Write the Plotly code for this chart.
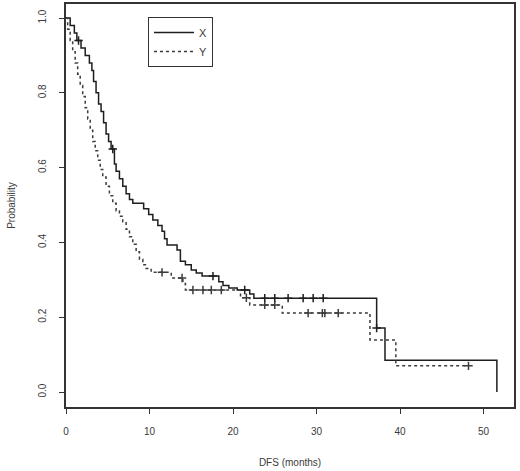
import numpy as np
import plotly.graph_objects as go

# ---- data ----
x_times = [0, 0.5, 1.0, 1.3, 1.8, 2.3, 2.8, 3.1, 3.3, 3.6, 3.9, 4.2, 4.5, 4.8, 5.1, 5.4,
           5.8, 6.0, 6.4, 6.8, 7.2, 7.6, 8.0, 9.3, 9.9, 10.4, 11.0, 11.5, 11.8, 12.1,
           13.3, 13.7, 14.3, 15.0, 15.6, 16.3, 18.3, 18.8, 19.5, 20.5, 22.0, 22.5,
           37.2, 38.2, 51.6]
x_surv = [1.0, 0.98, 0.96, 0.94, 0.92, 0.90, 0.88, 0.86, 0.83, 0.80, 0.77, 0.75, 0.72,
          0.69, 0.67, 0.65, 0.61, 0.59, 0.57, 0.55, 0.53, 0.515, 0.505, 0.49, 0.475,
          0.46, 0.445, 0.43, 0.41, 0.393, 0.38, 0.35, 0.34, 0.326, 0.318, 0.31, 0.295,
          0.285, 0.278, 0.273, 0.262, 0.251, 0.171, 0.085, 0.0]
x_censor = [1.5, 5.6, 17.6, 21.4, 23.8, 25.0, 26.6, 28.4, 29.6, 30.8, 37.2]

y_times = [0, 0.2, 0.5, 0.8, 1.1, 1.4, 1.7, 2.0, 2.3, 2.6, 2.9, 3.2, 3.5, 3.8, 4.1, 4.4,
           4.8, 5.2, 5.6, 6.0, 6.4, 6.8, 7.2, 7.6, 8.0, 8.4, 8.8, 9.2, 9.6, 10.2, 12.6,
           14.0, 14.3, 20.9, 22.0, 25.9, 36.4, 39.5, 48.2]
y_surv = [1.0, 0.97, 0.94, 0.91, 0.88, 0.85, 0.82, 0.79, 0.76, 0.73, 0.70, 0.67, 0.645,
          0.62, 0.595, 0.575, 0.55, 0.525, 0.505, 0.485, 0.47, 0.455, 0.435, 0.415,
          0.395, 0.375, 0.355, 0.34, 0.33, 0.32, 0.305, 0.29, 0.273, 0.252, 0.233,
          0.211, 0.139, 0.07, 0.07]
y_censor = [11.5, 13.9, 15.2, 16.4, 17.4, 18.6, 21.6, 23.8, 25.0, 29.0, 30.7, 31.0,
            32.6, 48.2]

x_ticks = [0, 10, 20, 30, 40, 50]
y_ticks = [0.0, 0.2, 0.4, 0.6, 0.8, 1.0]


def step_value(times, surv, t):
    idx = np.searchsorted(np.asarray(times), t, side="right") - 1
    return [surv[i] for i in idx]


AXC = "#333333"
TXT = "#3a3a3a"
FONT = "Liberation Sans, Arial, sans-serif"

fig = go.Figure()

fig.add_trace(go.Scatter(
    x=x_times, y=x_surv, mode="lines", line_shape="hv",
    line=dict(color="#1e1e1e", width=1.5), name="X", showlegend=True))
fig.add_trace(go.Scatter(
    x=y_times, y=y_surv, mode="lines", line_shape="hv",
    line=dict(color="#3c3c3c", width=1.5, dash="3px,3px"), name="Y", showlegend=True))

fig.add_trace(go.Scatter(
    x=x_censor, y=step_value(x_times, x_surv, x_censor), mode="markers",
    marker=dict(symbol="cross-thin", size=6, line=dict(color="#1e1e1e", width=1.5)),
    showlegend=False, hoverinfo="skip"))
fig.add_trace(go.Scatter(
    x=y_censor, y=step_value(y_times, y_surv, y_censor), mode="markers",
    marker=dict(symbol="cross-thin", size=6, line=dict(color="#3c3c3c", width=1.5)),
    showlegend=False, hoverinfo="skip"))

fig.update_layout(
    width=520, height=471,
    margin=dict(l=66, r=6, t=4, b=64, autoexpand=False),
    paper_bgcolor="white", plot_bgcolor="white",
    font=dict(family=FONT, size=10, color=TXT),
    legend=dict(x=0.183, y=0.968, xanchor="left", yanchor="top",
                bordercolor=AXC, borderwidth=1, bgcolor="white",
                font=dict(size=11, color=TXT), itemwidth=40,
                tracegroupgap=0),
)

fig.update_xaxes(
    range=[0, 53.65], tickvals=x_ticks, ticktext=[str(v) for v in x_ticks],
    showline=True, mirror=True, linecolor=AXC, linewidth=1.5,
    ticks="outside", ticklen=5, tickwidth=1, tickcolor=AXC,
    ticklabelstandoff=9, showgrid=False, zeroline=False, automargin=False,
    tickfont=dict(size=10, color=TXT),
    title=dict(text="DFS (months)", font=dict(size=10, color=TXT), standoff=23),
)
fig.update_yaxes(
    range=[-0.04, 1.0375], tickvals=y_ticks, ticktext=[f"{v:.1f}" for v in y_ticks],
    showline=True, mirror=True, linecolor=AXC, linewidth=1.5,
    ticks="outside", ticklen=5, tickwidth=1, tickcolor=AXC,
    tickangle=-90, ticklabelstandoff=9, showgrid=False, zeroline=False, automargin=False,
    tickfont=dict(size=10, color=TXT),
    title=dict(text="Probability", font=dict(size=10, color=TXT), standoff=20),
)

fig.write_html(
    "out.html",
    config={"displayModeBar": False},
    post_script="document.body.style.margin='0';document.body.style.padding='0';"
                "document.documentElement.style.overflow='hidden';",
)
